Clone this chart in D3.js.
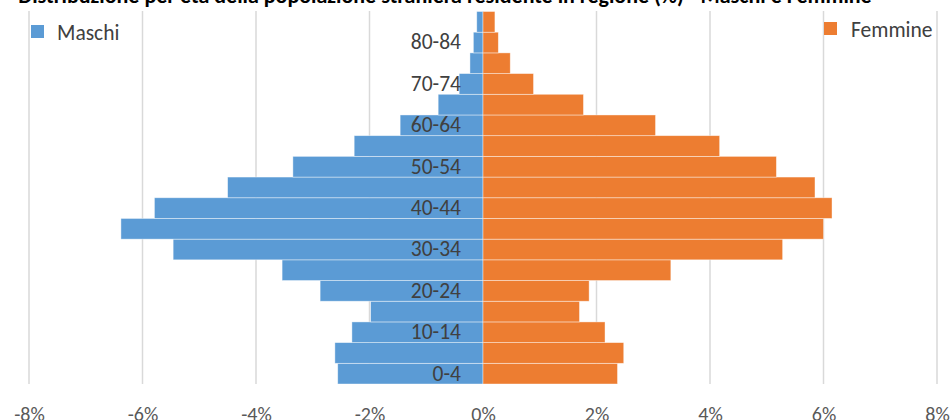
<!DOCTYPE html>
<html>
<head>
<meta charset="utf-8">
<script src="https://cdn.jsdelivr.net/npm/d3@7"></script>
<style>
  html, body { margin: 0; padding: 0; background: #ffffff; }
  svg { display: block; font-family: Carlito, Calibri, Lato, sans-serif; }
</style>
</head>
<body>
<svg id="chart" width="952" height="420"></svg>
<script>
const ageGroups = ["0-4","5-9","10-14","15-19","20-24","25-29","30-34","35-39","40-44",
                   "45-49","50-54","55-59","60-64","65-69","70-74","75-79","80-84","85+"];
const maschi  = [2.56, 2.61, 2.31, 1.98, 2.87, 3.54, 5.46, 6.38, 5.79,
                 4.50, 3.35, 2.27, 1.46, 0.79, 0.42, 0.23, 0.17, 0.11];
const femmine = [2.37, 2.48, 2.15, 1.70, 1.87, 3.31, 5.28, 6.00, 6.15,
                 5.85, 5.17, 4.17, 3.04, 1.77, 0.89, 0.48, 0.27, 0.21];
const xTicks = [-8, -6, -4, -2, 0, 2, 4, 6, 8];
const seriesNames = ["Maschi", "Femmine"];
const colors = ["#5B9BD5", "#ED7D31"];
const titleText = "Distribuzione per età della popolazione straniera residente in regione (%) - Maschi e Femmine";

const svg = d3.select("#chart");
const x = d3.scaleLinear().domain([-8, 8]).range([29, 937]);
const y = d3.scaleBand().domain(ageGroups.slice().reverse()).range([11.5, 384]).paddingInner(0).paddingOuter(0);

// title (cut at top in original)
svg.append("text")
  .attr("x", 445).attr("y", 3)
  .attr("text-anchor", "middle")
  .attr("font-weight", "bold")
  .attr("font-size", 22)
  .attr("fill", "#000")
  .text(titleText);

// gridlines
svg.append("g").selectAll("line")
  .data(xTicks)
  .join("line")
  .attr("x1", d => x(d)).attr("x2", d => x(d))
  .attr("y1", 11).attr("y2", 384)
  .attr("stroke", "#d9d9d9").attr("stroke-width", 1.5);

// bars
const data = ageGroups.map((g, i) => ({ g, m: maschi[i], f: femmine[i] }));
svg.append("g").selectAll("rect")
  .data(data)
  .join("rect")
  .attr("x", d => x(-d.m))
  .attr("y", d => y(d.g))
  .attr("width", d => x(0) - x(-d.m))
  .attr("height", y.bandwidth())
  .attr("fill", colors[0])
  .attr("stroke", "#ffffff").attr("stroke-opacity", 0.55).attr("stroke-width", 0.75);

svg.append("g").selectAll("rect")
  .data(data)
  .join("rect")
  .attr("x", x(0))
  .attr("y", d => y(d.g))
  .attr("width", d => x(d.f) - x(0))
  .attr("height", y.bandwidth())
  .attr("fill", colors[1])
  .attr("stroke", "#ffffff").attr("stroke-opacity", 0.55).attr("stroke-width", 0.75);

// category axis (every other label)
const yAxis = d3.axisLeft(y)
  .tickValues(ageGroups.filter((d, i) => i % 2 === 0))
  .tickSize(0).tickPadding(22);
const gy = svg.append("g").attr("transform", `translate(${x(0)},0)`).call(yAxis);
gy.select(".domain").remove();
gy.selectAll("text").attr("font-size", 21.5).attr("fill", "#404040")
  .attr("font-family", "Carlito, Calibri, Lato, sans-serif");

// x axis
const xAxis = d3.axisBottom(x).tickValues(xTicks).tickFormat(d => d + "%").tickSize(0).tickPadding(23);
const gx = svg.append("g").attr("transform", "translate(0,384)").call(xAxis);
gx.select(".domain").remove();
gx.selectAll("text").attr("font-size", 20).attr("fill", "#595959")
  .attr("font-family", "Carlito, Calibri, Lato, sans-serif");

// legend
const legendPos = [{ sx: 31, sy: 25, tx: 57, ty: 40 }, { sx: 824, sy: 22, tx: 851, ty: 37 }];
const lg = svg.append("g").selectAll("g")
  .data(seriesNames)
  .join("g");
lg.append("rect")
  .attr("x", (d, i) => legendPos[i].sx).attr("y", (d, i) => legendPos[i].sy)
  .attr("width", 13).attr("height", 13)
  .attr("fill", (d, i) => colors[i]);
lg.append("text")
  .attr("x", (d, i) => legendPos[i].tx).attr("y", (d, i) => legendPos[i].ty)
  .attr("font-size", 21.5).attr("fill", "#404040")
  .text(d => d);
</script>
</body>
</html>
